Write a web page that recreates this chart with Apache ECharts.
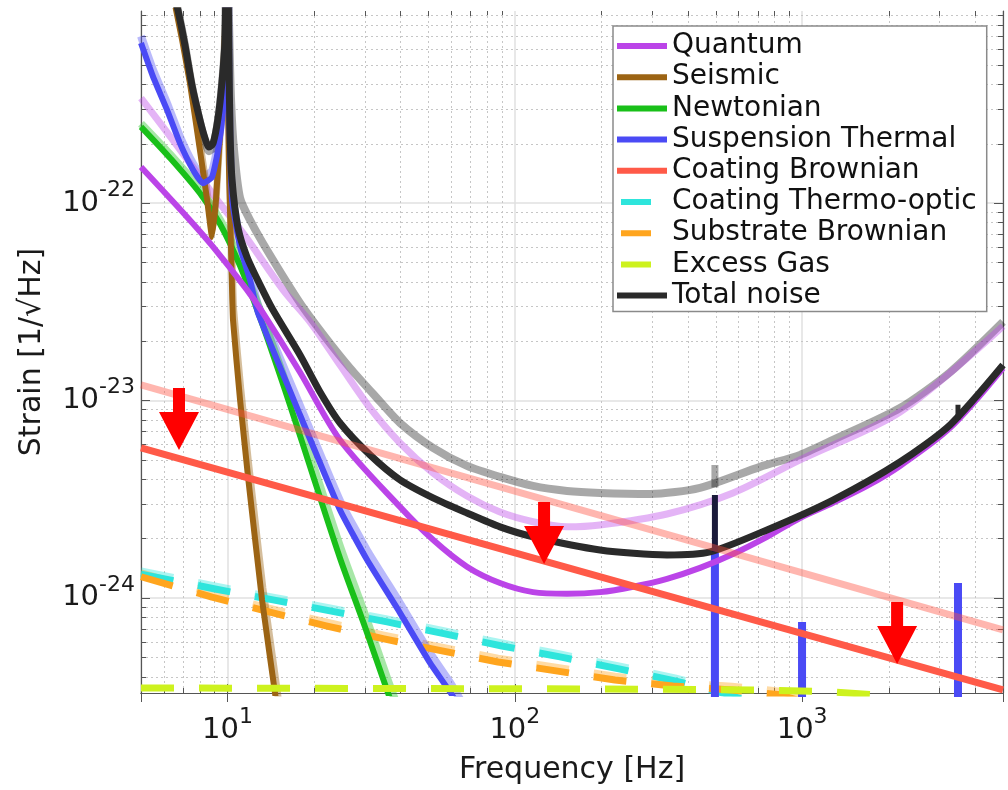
<!DOCTYPE html>
<html><head><meta charset="utf-8">
<script src="https://cdn.jsdelivr.net/npm/echarts@6/dist/echarts.min.js"></script>
<style>html,body{margin:0;padding:0;background:#fff}#c{width:1008px;height:790px}</style>
</head><body><div id="c"></div>
<script>
// ---------- axis ranges ----------
const FREQ_MIN = 5, FREQ_MAX = 5000;
const STRAIN_MIN = 3.3e-25, STRAIN_MAX = 9.38e-22;

// ---------- legend ----------
const legendNames = ['Quantum','Seismic','Newtonian','Suspension Thermal','Coating Brownian','Coating Thermo-optic','Substrate Brownian','Excess Gas','Total noise'];
const dashedNames = ['Coating Thermo-optic','Substrate Brownian','Excess Gas'];

// ---------- data: [frequency Hz, strain 1/sqrt(Hz)] ----------
const quantumNew = [[5,1.52e-22],[7.23,8.49e-23],[8.91,5.99e-23],[11.69,3.63e-23],[13.30,2.77e-23],[17.88,1.39e-23],[24.64,6.31e-24],[39.85,2.89e-24],[51.92,1.97e-24],[68.16,1.44e-24],[88.8,1.19e-24],[115.7,1.07e-24],[151.9,1.05e-24],[197.9,1.07e-24],[257.8,1.14e-24],[338.6,1.25e-24],[441,1.42e-24],[574.5,1.67e-24],[754.5,2.04e-24],[982.9,2.54e-24],[1280,3.03e-24],[1681,3.69e-24],[2190,4.66e-24],[3270,7.26e-24],[5000,1.46e-23]];
const quantumOld = [[5,3.40e-22],[6.46,2.08e-22],[9.19,1.04e-22],[11.51,6.81e-23],[15.61,3.63e-23],[19.37,2.50e-23],[24.64,1.51e-23],[31.33,9.16e-24],[39.85,6.09e-24],[51.92,4.29e-24],[68.16,3.28e-24],[88.8,2.72e-24],[115.7,2.43e-24],[151.9,2.29e-24],[197.9,2.34e-24],[338.6,2.66e-24],[574.5,3.40e-24],[982.9,5.00e-24],[2190,8.74e-24],[5000,2.38e-23]];
const seismicNew = [[6.4,1.3e-21],[6.57,1.006e-21],[6.95,6.69e-22],[7.40,4.05e-22],[8.02,1.85e-22],[8.49,1.04e-22],[8.83,6.73e-23],[9.12,1.04e-22],[9.42,2.26e-22],[9.72,5.30e-22],[9.88,9.49e-22],[9.96,3e-21],[10.04,4.20e-22],[10.12,1.47e-22],[10.29,5.78e-23],[10.45,2.56e-23],[11.06,1.006e-23],[11.79,4.10e-24],[13.19,9.77e-25],[14.75,3.04e-25],[15.2,2.2e-25]];
const seismicOld = [[6.45,1.3e-21],[6.6,1.05e-21],[6.98,7.0e-22],[7.43,4.3e-22],[8.05,1.95e-22],[8.52,1.1e-22],[8.86,7.2e-23],[9.15,1.1e-22],[9.45,2.4e-22],[9.74,5.6e-22],[9.9,1e-21],[9.97,3e-21],[10.06,4.6e-22],[10.15,1.6e-22],[10.33,6.4e-23],[10.5,2.9e-23],[11.12,1.15e-23],[11.86,4.7e-24],[13.28,1.12e-24],[14.85,3.5e-25],[15.3,2.5e-25]];
const newtonianNew = [[5,2.43e-22],[6.31,1.69e-22],[8.02,1.12e-22],[9.42,7.83e-23],[11.06,4.80e-23],[12.98,2.62e-23],[16.50,9.49e-24],[20.16,3.87e-24],[24.64,1.59e-24],[30.10,7.13e-25],[36.20,3.30e-25],[38.60,2.56e-25]];
const newtonianOld = [[5,2.52e-22],[6.31,1.76e-22],[8.02,1.17e-22],[9.42,8.2e-23],[11.06,5.1e-23],[12.98,2.85e-23],[16.5,1.06e-23],[20.16,4.4e-24],[24.64,1.82e-24],[30.1,8.2e-25],[36.2,3.8e-25],[38.6,2.95e-25],[41,2.3e-25]];
const suspensionNew = [[5,6.46e-22],[5.51,4.35e-22],[6.16,2.96e-22],[6.83,2.01e-22],[7.59,1.47e-22],[8.22,1.26e-22],[8.83,1.35e-22],[9.27,1.85e-22],[9.65,2.96e-22],[9.88,5.95e-22],[10.0,3e-21],[10.12,3.32e-22],[10.37,1.04e-22],[11.06,5.99e-23],[11.98,4.07e-23],[12.77,2.77e-23],[17.88,8.44e-24],[24.64,2.79e-24],[30.59,1.56e-24],[39.85,8.40e-25],[50.68,4.69e-25],[60.44,3.23e-25],[69.8,2.25e-25]];
const suspensionOld = [[5,7.0e-22],[5.51,4.7e-22],[6.16,3.2e-22],[6.83,2.17e-22],[7.59,1.58e-22],[8.22,1.36e-22],[8.83,1.45e-22],[9.27,1.98e-22],[9.65,3.15e-22],[9.88,6.3e-22],[10.0,3e-21],[10.12,3.6e-22],[10.37,1.13e-22],[11.06,6.5e-23],[11.98,4.45e-23],[12.77,3.05e-23],[17.88,9.4e-24],[24.64,3.1e-24],[30.59,1.74e-24],[39.85,9.4e-25],[50.68,5.25e-25],[60.44,3.6e-25],[69.8,2.5e-25]];
const suspensionModes = [[470,1e-26],[497,1e-26],[497,1.69e-24],[497,1e-26],[999,1e-26],[999,7.56e-25],[999,1e-26],[3486,1e-26],[3486,1.19e-24],[3486,1e-26],[5000,1e-26]];
const coatingBrownianNew = [[5,5.75e-24],[5000,3.42e-25]];
const coatingBrownianOld = [[5,1.198e-23],[5000,6.89e-25]];
const thermoOpticNew = [[5,1.32e-24],[9.05,1.11e-24],[14.40,9.77e-25],[22.74,8.60e-25],[35.92,7.56e-25],[57.15,6.57e-25],[90.2,5.71e-25],[143.7,5.03e-25],[230.4,4.37e-25],[360.9,3.80e-25],[530.4,3.30e-25],[713.5,2.87e-25]];
const thermoOpticOld = [[5,1.37e-24],[9.05,1.15e-24],[14.40,1.01e-24],[22.74,8.9e-25],[35.92,7.83e-25],[57.15,6.8e-25],[90.2,5.91e-25],[143.7,5.2e-25],[230.4,4.52e-25],[360.9,3.93e-25],[530.4,3.42e-25],[713.5,2.97e-25]];
const substrateNew = [[5,1.28e-24],[8.83,1.01e-24],[13.95,8.49e-25],[22.02,7.22e-25],[35.05,6.20e-25],[55.8,5.39e-25],[87.4,4.74e-25],[139.1,4.27e-25],[223.2,3.84e-25],[355.1,3.58e-25],[570,3.42e-25],[837,3.23e-25],[1250,2.71e-25]];
const substrateOld = [[5,1.34e-24],[8.83,1.055e-24],[13.95,8.87e-25],[22.02,7.55e-25],[35.05,6.48e-25],[55.8,5.63e-25],[87.4,4.95e-25],[139.1,4.46e-25],[223.2,4.01e-25],[355.1,3.74e-25],[570,3.57e-25],[837,3.37e-25],[1250,2.83e-25]];
const excessGas = [[5,3.50e-25],[200,3.46e-25],[700,3.42e-25],[1200,3.36e-25],[1822,3.22e-25],[2300,2.9e-25],[5000,2.5e-25]];
const totalNew = [[6.55,1.1e-21],[6.73,9.4e-22],[7.11,6.31e-22],[7.52,3.96e-22],[8.02,2.63e-22],[8.35,2.13e-22],[8.62,1.92e-22],[8.91,2.01e-22],[9.27,2.69e-22],[9.57,4.10e-22],[9.80,6.69e-22],[9.96,3e-21],[10.12,5.30e-22],[10.20,2.34e-22],[10.37,1.31e-22],[10.88,7.47e-23],[11.69,5.33e-23],[12.98,3.85e-23],[14.40,2.87e-23],[17.88,1.70e-23],[20.99,1.104e-23],[24.64,7.69e-24],[31.33,5.30e-24],[39.85,3.96e-24],[51.92,3.21e-24],[68.16,2.69e-24],[88.8,2.29e-24],[115.7,2.04e-24],[197.9,1.75e-24],[338.6,1.65e-24],[477.8,1.71e-24],[754.5,2.21e-24],[1280,3.13e-24],[2190,4.88e-24],[3270,7.51e-24],[5000,1.51e-23]];
const totalOld = [[6.55,1.1e-21],[6.73,9.4e-22],[7.11,6.31e-22],[7.52,3.91e-22],[8.02,2.57e-22],[8.35,2.06e-22],[8.62,1.83e-22],[8.91,1.92e-22],[9.27,2.63e-22],[9.57,4.00e-22],[9.80,6.53e-22],[9.96,3e-21],[10.12,8.44e-22],[10.29,3.32e-22],[10.54,1.85e-22],[11.06,1.06e-22],[11.98,8.20e-23],[13.72,5.78e-23],[17.88,3.12e-23],[21.85,2.10e-23],[26.70,1.46e-23],[32.62,1.054e-23],[39.85,7.69e-24],[51.92,5.75e-24],[68.16,4.66e-24],[88.8,4.10e-24],[115.7,3.69e-24],[151.9,3.48e-24],[197.9,3.40e-24],[295.5,3.36e-24],[441,3.61e-24],[713.5,4.61e-24],[982.9,5.30e-24],[1280,6.31e-24],[2190,9.16e-24],[3270,1.39e-23],[5000,2.50e-23]];
const totalNewPeak500 = [[497,1.71e-24],[497,3.32e-24]];
const totalNewPeak3500 = [[3486,8.0e-24],[3486,9.5e-24]];
const totalOldPeak500 = [[497,3.62e-24],[497,4.71e-24]];
const arrowPoints = [[6.78,8.05e-24],[126.4,2.13e-24],[2140,6.65e-25]];

// ---------- helpers ----------
const FONT = 'DejaVu Sans';
function powLabel(v) {
  if (!(v > 0)) return '';
  const e = Math.log10(v), r = Math.round(e);
  if (!isFinite(e) || Math.abs(e - r) > 1e-6) return '';
  return '{b|10}{s|' + r + '}';
}
const labelRich = {
  b: { fontFamily: FONT, fontSize: 29, color: '#1a1a1a' },
  s: { fontFamily: FONT, fontSize: 22, color: '#1a1a1a', padding: [0, 0, 26, 0] }
};
function line(name, data, color, width, extra) {
  const s = {
    type: 'line', name: name, data: data, showSymbol: false, symbol: 'none',
    smooth: 0.3, clip: true, silent: true, z: 2,
    lineStyle: { color: color, width: width, cap: 'butt', join: 'round' },
    itemStyle: { color: color }
  };
  if (extra) {
    if (extra.lineStyle) Object.assign(s.lineStyle, extra.lineStyle);
    Object.keys(extra).forEach(k => { if (k !== 'lineStyle') s[k] = extra[k]; });
  }
  return s;
}
const DASH = { type: [33, 25] };
const ICON_SOLID = 'path://M0,0L50,0L50,6L0,6Z';
const ICON_DASH = 'path://M0,0L0.02,0L0.02,0.02L0,0.02ZM4,0L34,0L34,6L4,6ZM49.98,5.98L50,5.98L50,6L49.98,6Z';

const axisLineStyle = { color: '#555', width: 1.2 };

const option = {
  animation: false,
  backgroundColor: '#ffffff',
  textStyle: { fontFamily: FONT },
  grid: { left: 141, right: 5, top: 11, bottom: 97, containLabel: false, outerBoundsMode: 'none' },
  legend: {
    data: legendNames.map(n => ({ name: n, icon: dashedNames.indexOf(n) >= 0 ? ICON_DASH : ICON_SOLID })),
    orient: 'vertical', left: 613, top: 26,
    padding: [6, 10, 2, 4], itemWidth: 50, itemHeight: 6, itemGap: 3.2,
    backgroundColor: '#ffffff', borderColor: '#8a8a8a', borderWidth: 1.5,
    textStyle: { fontFamily: FONT, fontSize: 28, color: '#111', lineHeight: 28 },
    selectedMode: false, z: 10
  },
  xAxis: [{
    type: 'log', logBase: 10, min: FREQ_MIN, max: FREQ_MAX, position: 'bottom',
    name: 'Frequency [Hz]', nameLocation: 'middle', nameGap: 62, nameMoveOverlap: false,
    nameTextStyle: { fontFamily: FONT, fontSize: 30, color: '#1a1a1a' },
    axisLine: { show: true, lineStyle: axisLineStyle },
    axisTick: { show: true, inside: true, length: 9, lineStyle: { color: '#555', width: 1 } },
    axisLabel: { show: true, margin: 13, formatter: powLabel, rich: labelRich, hideOverlap: false, showMinLabel: false, showMaxLabel: false },
    splitLine: { show: true, lineStyle: { color: '#e0e0e0', width: 1.5 } }
  }, {
    type: 'log', logBase: 10, min: FREQ_MIN, max: FREQ_MAX, position: 'top',
    axisLine: { show: true, lineStyle: axisLineStyle },
    axisTick: { show: true, inside: true, length: 9, lineStyle: { color: '#555', width: 1 } },
    axisLabel: { show: false }, splitLine: { show: false }
  }],
  yAxis: [{
    type: 'log', logBase: 10, min: STRAIN_MIN, max: STRAIN_MAX, position: 'left',
    name: 'Strain [1/\u221AHz]', nameLocation: 'middle', nameGap: 94, nameMoveOverlap: false,
    nameTextStyle: { fontFamily: FONT, fontSize: 30, color: '#1a1a1a' },
    axisLine: { show: true, lineStyle: axisLineStyle },
    axisTick: { show: true, inside: true, length: 9, lineStyle: { color: '#555', width: 1 } },
    axisLabel: { show: true, margin: 6, formatter: powLabel, rich: labelRich, hideOverlap: false, showMinLabel: false, showMaxLabel: false },
    splitLine: { show: true, lineStyle: { color: '#e0e0e0', width: 1.5 } }
  }, {
    type: 'log', logBase: 10, min: STRAIN_MIN, max: STRAIN_MAX, position: 'right',
    axisLine: { show: true, lineStyle: axisLineStyle },
    axisTick: { show: true, inside: true, length: 9, lineStyle: { color: '#555', width: 1 } },
    axisLabel: { show: false }, splitLine: { show: false }
  }],
  series: [
    // baseline (faded) curves
    line('Thermo-optic (baseline)', thermoOpticOld, 'rgba(45,230,220,0.4)', 7, { smooth: false, lineStyle: DASH }),
    line('Substrate (baseline)', substrateOld, 'rgba(255,166,31,0.4)', 7, { smooth: false, lineStyle: DASH }),
    line('Suspension (baseline)', suspensionOld, 'rgba(74,74,245,0.38)', 8, { smooth: 0.15 }),
    line('Seismic (baseline)', seismicOld, 'rgba(156,100,20,0.42)', 7, { smooth: 0.1 }),
    line('Newtonian (baseline)', newtonianOld, 'rgba(24,192,24,0.38)', 8),
    line('Total (baseline)', totalOld, 'rgba(0,0,0,0.34)', 8, { smooth: 0.25 }),
    line('Total (baseline) peak', totalOldPeak500, 'rgba(0,0,0,0.34)', 7, { smooth: false }),
    line('Quantum (baseline)', quantumOld, 'rgba(187,68,232,0.4)', 7),
    // upgraded curves
    line('Coating Thermo-optic', thermoOpticNew, '#2ee5dc', 7, { smooth: false, lineStyle: DASH }),
    line('Substrate Brownian', substrateNew, '#ffa51e', 7, { smooth: false, lineStyle: DASH }),
    line('Newtonian', newtonianNew, '#19c019', 6),
    line('Seismic', seismicNew, '#9c6414', 6, { smooth: 0.1 }),
    line('Suspension Thermal', suspensionNew, '#4a4af5', 6, { smooth: 0.15 }),
    line('Suspension Thermal modes', suspensionModes, '#4a4af5', 8, { smooth: false, lineStyle: { join: 'miter' } }),
    line('Quantum', quantumNew, '#bb44e8', 6),
    line('Total noise', totalNew, '#2a2a2a', 7, { smooth: 0.25 }),
    line('Total noise peak 500', totalNewPeak500, '#1a1a3a', 6, { smooth: false }),
    line('Total noise peak 3500', totalNewPeak3500, '#2a2a2a', 5, { smooth: false }),
    line('Coating Brownian (baseline)', coatingBrownianOld, 'rgba(255,80,64,0.42)', 7, { smooth: false }),
    line('Coating Brownian', coatingBrownianNew, '#ff5a48', 7, { smooth: false }),
    line('Excess Gas', excessGas, '#cdf21e', 7, { smooth: false, lineStyle: DASH }),
    {
      type: 'scatter', name: 'improvement arrows', data: arrowPoints, silent: true, z: 5,
      symbol: 'path://M14,0L26,0L26,24L40,24L20,62L0,24L14,24Z', symbolSize: [40, 62],
      itemStyle: { color: '#ff0000', opacity: 1 }
    }
  ]
};

const chart = echarts.init(document.getElementById('c'), null, { renderer: 'canvas' });
chart.setOption(option);

// minor (2..9 x 10^k) grid lines and ticks, placed through the axis scales
(function addMinor() {
  const xp = v => chart.convertToPixel({ xAxisIndex: 0 }, v);
  const yp = v => chart.convertToPixel({ yAxisIndex: 0 }, v);
  const left = xp(FREQ_MIN), right = xp(FREQ_MAX), top = yp(STRAIN_MAX), bottom = yp(STRAIN_MIN);
  const dot = { stroke: '#c6c6c6', lineWidth: 1, lineDash: [2, 3] };
  const tick = { stroke: '#555', lineWidth: 1 };
  const els = [];
  const seg = (x1, y1, x2, y2, st) => els.push({ type: 'line', silent: true, z: 1, shape: { x1, y1, x2, y2 }, style: st });
  for (let e = 0; e <= 3; e++) for (let m = 2; m <= 9; m++) {
    const v = m * Math.pow(10, e);
    if (v <= FREQ_MIN || v >= FREQ_MAX) continue;
    const x = Math.round(xp(v)) + 0.5;
    seg(x, top, x, bottom, dot);
    seg(x, bottom, x, bottom - 5, tick);
    seg(x, top, x, top + 5, tick);
  }
  for (let e = -25; e <= -22; e++) for (let m = 2; m <= 9; m++) {
    const v = m * Math.pow(10, e);
    if (v <= STRAIN_MIN || v >= STRAIN_MAX) continue;
    const y = Math.round(yp(v)) + 0.5;
    seg(left, y, right, y, dot);
    seg(left, y, left + 5, y, tick);
    seg(right, y, right - 5, y, tick);
  }
  chart.setOption({ graphic: { elements: els } });
})();
</script>
</body></html>
